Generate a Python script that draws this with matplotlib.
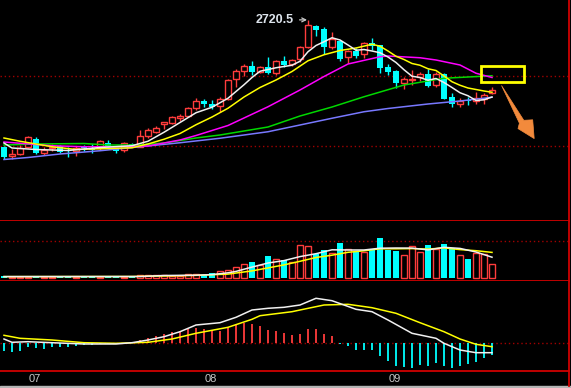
import numpy as np
import matplotlib.pyplot as plt
from matplotlib.patches import Rectangle, Polygon
from matplotlib.lines import Line2D
import matplotlib.transforms as mtransforms

# daily bars, July - September (one entry per trading day)
opens = [2213, 2178, 2186, 2212, 2244, 2189, 2208, 2216, 2200, 2196,
         2213, 2205, 2210, 2229, 2208, 2202, 2224, 2214, 2256, 2273,
         2303, 2309, 2329, 2336, 2370, 2396, 2384, 2376, 2403, 2483,
         2517, 2536, 2513, 2533, 2507, 2556, 2543, 2563, 2613, 2696,
         2684, 2611, 2636, 2571, 2597, 2583, 2627, 2620, 2533, 2517,
         2469, 2479, 2491, 2504, 2460, 2504, 2413, 2384, 2402, 2397,
         2404, 2427]
highs = [2216, 2204, 2220, 2256, 2252, 2211, 2224, 2220, 2213, 2216,
         2222, 2223, 2242, 2242, 2210, 2232, 2229, 2280, 2288, 2297,
         2312, 2336, 2344, 2373, 2409, 2403, 2400, 2411, 2485, 2523,
         2544, 2556, 2536, 2573, 2560, 2576, 2564, 2616, 2720.5, 2700,
         2692, 2671, 2640, 2600, 2608, 2632, 2647, 2622, 2544, 2520,
         2493, 2520, 2513, 2525, 2513, 2508, 2427, 2407, 2412, 2431,
         2429, 2453]
lows = [2164, 2164, 2180, 2208, 2184, 2179, 2197, 2187, 2173, 2178,
        2198, 2190, 2202, 2212, 2189, 2194, 2212, 2212, 2248, 2267,
        2286, 2304, 2318, 2331, 2360, 2373, 2363, 2352, 2400, 2451,
        2496, 2500, 2508, 2504, 2500, 2532, 2536, 2552, 2608, 2656,
        2584, 2604, 2556, 2548, 2568, 2568, 2600, 2509, 2500, 2449,
        2445, 2460, 2477, 2454, 2453, 2404, 2371, 2371, 2380, 2384,
        2384, 2424]
closes = [2173, 2186, 2210, 2252, 2188, 2201, 2213, 2194, 2196, 2208,
          2208, 2201, 2235, 2213, 2197, 2227, 2215, 2258, 2280, 2289,
          2311, 2332, 2337, 2367, 2396, 2383, 2371, 2403, 2480, 2517,
          2536, 2513, 2531, 2509, 2556, 2539, 2560, 2611, 2699, 2680,
          2613, 2644, 2565, 2596, 2577, 2627, 2615, 2529, 2512, 2468,
          2483, 2483, 2504, 2456, 2504, 2404, 2384, 2395, 2398, 2409,
          2419, 2440]
volume = [13, 10, 10, 10, 13, 10, 10, 13, 12, 12,
          12, 12, 12, 12, 12, 12, 12, 27, 25, 23,
          23, 20, 17, 33, 33, 27, 43, 67, 73, 103,
          133, 155, 127, 217, 184, 174, 154, 324, 314, 234,
          277, 244, 347, 284, 254, 254, 287, 397, 280, 267,
          224, 314, 260, 327, 287, 334, 294, 224, 187, 247,
          234, 134]
macd_hist = [-7.4, -8.4, -7.4, -3.4, -4.4, -5.4, -3.4, -4.0, -3.4, -2.4,
             -2.0, -1.4, -0.7, -0.7, -0.5, 0.3, 0.3, 3.3, 5.0, 7.3,
             9.3, 11.3, 12.3, 14.0, 15.3, 14.6, 13.3, 12.6, 16.0, 19.0,
             20.3, 19.0, 17.3, 13.0, 12.3, 10.6, 8.3, 9.3, 14.3, 14.3,
             9.3, 7.3, -0.3, -2.4, -6.4, -6.4, -6.4, -12.4, -17.4, -22.4,
             -23.4, -24.4, -21.7, -22.4, -19.7, -22.4, -24.4, -22.4, -21.0, -19.0,
             -15.0, -11.7]

# moving average lines (read at selected bars)
ma5_idx = [0, 1, 4, 8, 12, 16, 18, 20, 22, 24, 26, 28, 30, 31, 32, 34, 36, 37, 38, 39,
           40, 41, 42, 43, 44, 45, 46, 47, 48, 49, 50, 51, 52, 53, 54, 55, 56, 57, 58, 59, 60, 61]
ma5 = [2228, 2208, 2202, 2198, 2210, 2217, 2235, 2271, 2310, 2349, 2371, 2407, 2461, 2490,
       2515, 2529, 2539, 2555, 2593, 2618, 2633, 2649, 2640, 2620, 2599, 2602, 2596, 2589,
       2572, 2550, 2521, 2495, 2490, 2479, 2486, 2470, 2450, 2429, 2417, 2398, 2401, 2412]
ma10_idx = [0, 2, 4, 6, 9, 13, 16, 18, 20, 22, 24, 26, 28, 30, 32, 34, 36, 38, 40, 42,
            44, 46, 47, 48, 49, 50, 51, 52, 53, 54, 55, 56, 57, 58, 59, 60, 61]
ma10 = [2248, 2235, 2224, 2213, 2202, 2206, 2209, 2224, 2243, 2266, 2301, 2332, 2367, 2412,
        2450, 2480, 2514, 2557, 2581, 2598, 2608, 2623, 2615, 2596, 2575, 2562, 2546, 2539,
        2525, 2518, 2496, 2473, 2459, 2448, 2442, 2436, 2431]
ma20_idx = [0, 2, 6, 10, 14, 18, 22, 24, 28, 33, 37, 40, 43, 47, 48, 52, 54, 57, 59, 61]
ma20 = [2232, 2227, 2217, 2213, 2213, 2216, 2240, 2258, 2298, 2373, 2440, 2494, 2544, 2573,
        2576, 2569, 2560, 2540, 2507, 2490]
ma30_idx = [0, 4, 10, 13, 17, 20, 24, 27, 33, 37, 41, 45, 50, 55, 61]
ma30 = [2220, 2224, 2226, 2220, 2220, 2228, 2248, 2260, 2292, 2336, 2372, 2413, 2460, 2487, 2497]
ma60_idx = [0, 3, 7, 12, 17, 22, 27, 33, 37, 41, 45, 48, 53, 57, 61]
ma60 = [2162, 2170, 2184, 2197, 2213, 2229, 2247, 2273, 2300, 2327, 2353, 2366, 2384, 2396, 2411]

vol_ma5_idx = [0, 17, 20, 24, 26, 28, 29, 31, 33, 35, 37, 39, 41, 43, 45, 47, 49, 51, 53, 55, 57, 59, 61]
vol_ma5 = [11, 12, 22, 25, 31, 49, 63, 106, 147, 171, 211, 240, 279, 277, 277, 295, 297, 296, 278, 304, 293, 257, 205]
vol_ma10_idx = [0, 16, 20, 24, 28, 31, 33, 35, 37, 39, 41, 43, 45, 47, 49, 51, 53, 55, 57, 59, 61]
vol_ma10 = [11, 12, 17, 23, 36, 68, 98, 128, 164, 202, 225, 254, 269, 289, 289, 291, 286, 298, 281, 270, 253]

dif_idx = [0, 1, 3, 6, 10, 14, 16, 18, 20, 22, 24, 27, 29, 31, 33, 35, 37, 39, 41, 44,
           46, 48, 51, 54, 55, 57, 59, 61]
dif = [4.3, 1.0, 1.6, 0.6, -0.7, -0.7, 0.6, 3.3, 6.6, 11.6, 18.3, 20.6, 26.0, 33.3, 35.0,
       36.0, 38.3, 45.0, 42.6, 34.0, 31.6, 23.3, 10.0, 5.0, 0.0, -6.7, -9.4, -9.4]
dea_idx = [0, 2, 6, 10, 14, 18, 21, 24, 28, 31, 32, 36, 37, 40, 43, 46, 49, 52, 55, 57, 59, 61]
dea = [8.0, 5.0, 3.3, 0.6, 0.0, 1.0, 4.3, 10.0, 16.0, 24.0, 27.6, 31.6, 33.3, 38.3, 39.0,
       35.6, 30.0, 20.6, 11.6, 4.3, -1.0, -3.4]

month_labels = ['07', '08', '09']
month_first = [3, 25, 48]

W, H = 571, 388
RED = '#ff3c3c'
CYAN = '#00ffff'
BORDER = '#d00000'
GRID = '#a00000'


def fx(px):
    return px / W


def fy(py):
    return 1 - py / H


fig = plt.figure(figsize=(W / 100, H / 100), dpi=100, facecolor='black')
right = 569
ax1 = fig.add_axes([0, fy(221), fx(right), 221 / H])
ax2 = fig.add_axes([0, fy(281), fx(right), 60 / H])
ax3 = fig.add_axes([0, fy(371), fx(right), 90 / H])

for ax in (ax1, ax2, ax3):
    ax.set_facecolor('black')
    ax.set_xlim(-0.5, 70.625)
    ax.set_xticks([])
    ax.set_yticks([])
    ax.spines['top'].set_visible(False)
    ax.spines['left'].set_visible(False)
    for s in ('bottom', 'right'):
        ax.spines[s].set_color(BORDER)
        ax.spines[s].set_linewidth(1.3)

x = np.arange(len(closes))
o, h, l, c = (np.array(a, dtype=float) for a in (opens, highs, lows, closes))
up = c >= o

# price panel
ax1.set_ylim(1916, 2800)
for lvl in (2216, 2496):
    ax1.axhline(lvl, color=GRID, ls=(0, (1, 2)), lw=1, zorder=1)
ax1.vlines(x[up], l[up], h[up], color=RED, lw=1, zorder=2)
ax1.vlines(x[~up], l[~up], h[~up], color=CYAN, lw=1, zorder=2)
body = np.maximum(np.abs(c - o), 2)
bottom = np.minimum(o, c)
ax1.bar(x[up], body[up], bottom=bottom[up], width=0.72, facecolor='black',
        edgecolor=RED, lw=1, zorder=2.5)
ax1.bar(x[~up], body[~up], bottom=bottom[~up], width=0.72, color=CYAN, lw=0, zorder=2.5)

ax1.plot(ma60_idx, ma60, color='#7878ff', lw=1.1, zorder=3)
ax1.plot(ma30_idx, ma30, color='#00d800', lw=1.1, zorder=3)
ax1.plot(ma20_idx, ma20, color='#ff00ff', lw=1.1, zorder=3)
ax1.plot(ma10_idx, ma10, color='#ffff00', lw=1.1, zorder=3)
ax1.plot(ma5_idx, ma5, color='#f0f0f0', lw=1.1, zorder=3)

imax = int(np.argmax(h))
ax1.annotate(f'{h[imax]:.1f}', xy=(imax - 0.12, h[imax]), xytext=(imax - 1.75, h[imax]),
             ha='right', va='center', color='#dde4ec', fontsize=9, fontweight='bold',
             family='Liberation Sans',
             arrowprops=dict(arrowstyle='->', color='#c8c8c8', lw=0.9,
                             shrinkA=2, shrinkB=0, mutation_scale=7))

# volume panel
v = np.array(volume, dtype=float)
ax2.set_ylim(-33, 567)
ax2.axhline(367, color=GRID, ls=(0, (1, 2)), lw=1, zorder=1)
ax2.bar(x[up], v[up], width=0.72, facecolor='black', edgecolor=RED, lw=1, zorder=2)
ax2.bar(x[~up], v[~up], width=0.72, color=CYAN, lw=0, zorder=2)
ax2.plot(vol_ma10_idx, vol_ma10, color='#ffff00', lw=1.1, zorder=3)
ax2.plot(vol_ma5_idx, vol_ma5, color='#f0f0f0', lw=1.1, zorder=3)

# MACD panel
m = np.array(macd_hist)
ax3.set_ylim(-27.7, 62.3)
ax3.axhline(0, color=GRID, ls=(0, (1, 2)), lw=1, zorder=1)
ax3.vlines(x[m > 0], 0, m[m > 0], color=RED, lw=1.3, zorder=2)
ax3.vlines(x[m <= 0], 0, m[m <= 0], color=CYAN, lw=1.3, zorder=2)
ax3.plot(dea_idx, dea, color='#ffff00', lw=1.1, zorder=3)
ax3.plot(dif_idx, dif, color='#f0f0f0', lw=1.1, zorder=3)

trans = mtransforms.blended_transform_factory(ax3.transData, ax3.transAxes)
for lab, i in zip(month_labels, month_first):
    ax3.text(i + 0.9, -0.089, lab, transform=trans, ha='center', va='center',
             color='#c8c8c8', fontsize=8, family='Liberation Sans', clip_on=False)

# right border continues to the bottom, grey strip at the very bottom
fig.add_artist(Line2D([fx(right), fx(right)], [fy(371), fy(386)], color=BORDER, lw=1.3,
                      transform=fig.transFigure))
fig.add_artist(Rectangle((0, 0), 1, 1.6 / H, color='#b4b4b4', transform=fig.transFigure))

# yellow highlight box and orange arrow
fig.add_artist(Rectangle((fx(480.7), fy(82)), fx(524.3) - fx(480.7), (82 - 65.7) / H,
                         fill=False, edgecolor='#ffff00', lw=2.0, transform=fig.transFigure))
arrow_px = [(501.5, 85.5), (523.8, 120.3), (532.7, 119.8), (534.2, 138.6),
            (518.0, 128.6), (519.4, 123.2)]
fig.add_artist(Polygon([(fx(a), fy(b)) for a, b in arrow_px], closed=True,
                       facecolor='#f28a3c', edgecolor='#f28a3c', lw=0.5,
                       transform=fig.transFigure))

fig.savefig('out.png', dpi=100, facecolor='black')
